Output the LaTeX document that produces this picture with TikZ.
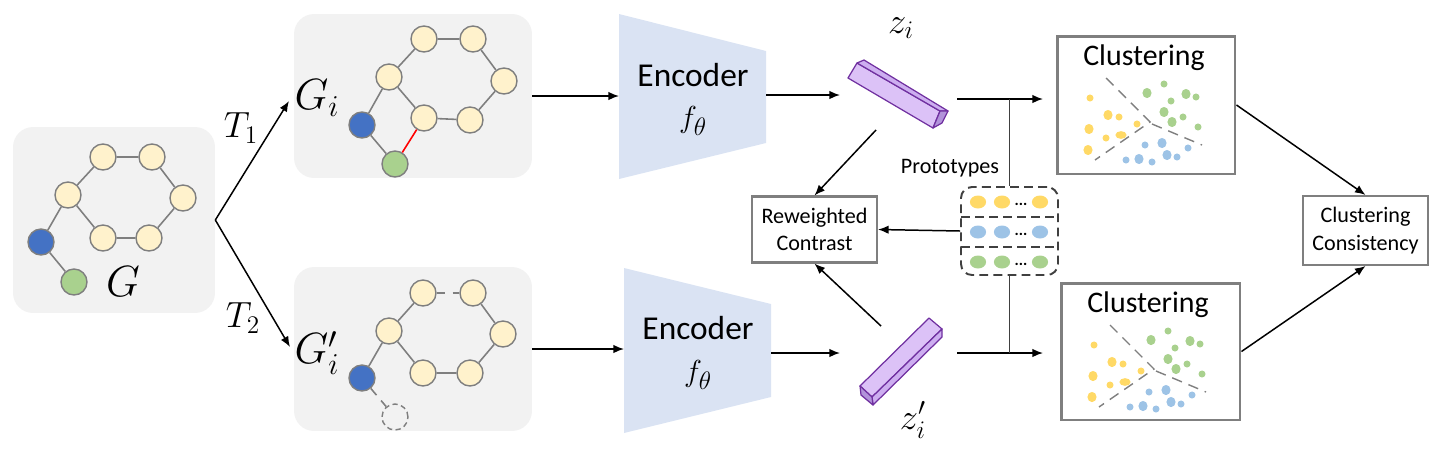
\documentclass[tikz,border=0pt]{standalone}
\usepackage{fontspec}
\setmainfont{Carlito}
\usetikzlibrary{arrows.meta}
\definecolor{boxgray}{HTML}{F2F2F2}
\definecolor{nodeyel}{HTML}{FFF2CC}
\definecolor{nodeblue}{HTML}{4472C4}
\definecolor{nodegreen}{HTML}{A9D18E}
\definecolor{edgegray}{HTML}{7F7F7F}
\definecolor{encblue}{HTML}{DAE3F3}
\definecolor{vecline}{HTML}{7030A0}
\definecolor{vecface}{HTML}{DCC2F7}
\definecolor{vecside}{HTML}{CDAEF0}
\definecolor{vecend}{HTML}{B293DA}
\definecolor{protogray}{HTML}{404040}
\definecolor{cyel}{HTML}{FFD966}
\definecolor{cblu}{HTML}{9DC3E6}
\definecolor{cgrn}{HTML}{A9D18E}

\begin{document}
\begin{tikzpicture}[x=0.02cm,y=-0.02cm,
    gbox/.style={fill=boxgray,rounded corners=0.4cm,inner sep=0pt},
    vtx/.style={circle,draw=edgegray,line width=0.8pt,minimum size=0.52cm,inner sep=0pt},
    yv/.style={vtx,fill=nodeyel},
    bv/.style={vtx,fill=nodeblue},
    gv/.style={vtx,fill=nodegreen},
    edge/.style={edgegray,line width=0.9pt},
    cut/.style={edge,dash pattern=on 5pt off 4pt},
    arr/.style={-{Latex[length=6pt,width=4.8pt]},line width=0.85pt},
    glab/.style={font=\fontsize{25}{28}\selectfont},
    tlab/.style={font=\fontsize{20}{24}\selectfont},
    zlab/.style={font=\fontsize{22}{26}\selectfont},
    enc/.style={font=\fontsize{19}{22}\selectfont},
    ctitle/.style={font=\fontsize{17}{20}\selectfont},
    small/.style={font=\fontsize{12.6}{15.5}\selectfont,align=center},
    frame/.style={draw=edgegray,line width=1.2pt,inner sep=0pt},
    cframe/.style={draw=edgegray,line width=1.7pt,inner sep=0pt},
    vec/.style={draw=vecline,line width=0.7pt,line join=round},
    sep/.style={draw=protogray,line width=1.1pt,dash pattern=on 5pt off 3pt},
    split/.style={draw=edgegray,line width=0.8pt,dash pattern=on 6pt off 4pt}
  ]
  \useasboundingbox (0,0) rectangle (1440,464);

  % input graph G
  \node[gbox,minimum width=4.04cm,minimum height=3.72cm] (boxG) at (114,220) {};
  \foreach \n/\x/\y in {1/103/157,2/152/157,3/183/198,4/149/238,5/103/238,6/68/195}
    \node[yv] (g\n) at (\x,\y) {};
  \node[bv] (gb) at (41,242) {};
  \node[gv] (gg) at (74,282) {};
  \draw[edge] (g1) -- (g2) -- (g3) -- (g4) -- (g5) -- (g6) -- (g1) (g6) -- (gb) -- (gg);
  \node[glab] (lg) at (123,282) {$G$};

  % first view
  \node[gbox,minimum width=4.76cm,minimum height=3.28cm] (boxGi) at (413,96) {};
  \foreach \n/\x/\y in {1/424/39,2/473/39,3/504/81,4/470/120,5/424/118,6/389/77}
    \node[yv] (a\n) at (\x,\y) {};
  \node[bv] (ab) at (362,125) {};
  \node[gv] (ag) at (395,164) {};
  \draw[edge] (a1) -- (a2) -- (a3) -- (a4) -- (a5) -- (a6) -- (a1) (a6) -- (ab) -- (ag);
  \draw[red,line width=0.9pt] (ag) -- (a5);
  \node[glab] (lgi) at (317,98) {$G_i$};

  % second view
  \node[gbox,minimum width=4.76cm,minimum height=3.28cm] (boxGj) at (413,349) {};
  \foreach \n/\x/\y in {1/423/293,2/473/293,3/503/334,4/470/373,5/423/373,6/389/331}
    \node[yv] (b\n) at (\x,\y) {};
  \node[bv] (bb) at (362,378) {};
  \node[vtx,dash pattern=on 3pt off 2pt] (bg) at (395,417) {};
  \draw[edge] (b2) -- (b3) -- (b4) -- (b5) -- (b6) -- (b1) (b6) -- (bb);
  \draw[cut] (b1) -- (b2);
  \draw[cut] (bb) -- (bg);
  \node[glab] (lgj) at (317,353) {$G_i'$};

  % augmentations
  \coordinate (t1end) at (289,101);
  \coordinate (t2end) at (290,347);
  \draw[arr] (boxG.east) -- (t1end);
  \draw[arr] (boxG.east) -- (t2end);
  \node[tlab] (t1) at (241,128) {$T_1$};
  \node[tlab] (t2) at (243,318) {$T_2$};

  % encoders
  \fill[encblue] (619,14) -- (766,51) -- (766,143) -- (619,179) -- cycle;
  \fill[encblue] (624,268) -- (771,304) -- (771,397) -- (624,433) -- cycle;
  \node[enc] (enc1) at (693,75) {Encoder};
  \node[enc] (f1) at (693,121) {$f_\theta$};
  \node[enc] (enc2) at (698,328) {Encoder};
  \node[enc] (f2) at (698,375) {$f_\theta$};
  \coordinate (e1w) at (619,96);
  \coordinate (e2w) at (624,349);
  \coordinate (e1e) at (766,95);
  \coordinate (e2e) at (771,353);
  \coordinate (zt1) at (840,95);
  \coordinate (zt2) at (840,353);
  \draw[arr] (boxGi.east) -- (e1w);
  \draw[arr] (boxGj.east) -- (e2w);
  \draw[arr] (e1e) -- (zt1);
  \draw[arr] (e2e) -- (zt2);

  % embeddings
  \filldraw[vec,fill=vecface] (848,78) -- (857,63) -- (940,111) -- (933,128) -- cycle;
  \filldraw[vec,fill=vecside] (857,63) -- (864,60) -- (948,111) -- (940,111) -- cycle;
  \filldraw[vec,fill=vecend] (933,128) -- (940,111) -- (948,111) -- (942,123) -- cycle;
  \filldraw[vec,fill=vecface] (860,386) -- (929,318) -- (942,329) -- (872,397) -- cycle;
  \filldraw[vec,fill=vecside] (872,397) -- (942,329) -- (942,337) -- (873,405) -- cycle;
  \filldraw[vec,fill=vecend] (860,386) -- (872,397) -- (873,405) -- (861,395) -- cycle;
  \node[zlab] (zi) at (901,28) {$z_i$};
  \node[zlab] (zj) at (913,420) {$z_i'$};

  % prototypes
  \node[draw=protogray,line width=1.1pt,dash pattern=on 5pt off 3pt,rounded corners=0.22cm,
    minimum width=1.94cm,minimum height=1.76cm] (proto) at (1009.5,231) {};
  \draw[sep] (961,217) -- (1058,217);
  \draw[sep] (961,247) -- (1058,247);
  \foreach \y/\c in {202/cyel,232/cblu,262/cgrn} {
    \foreach \x in {978,1002,1040}
      \fill[\c] (\x,\y) ellipse [x radius=4.6pt,y radius=3.7pt];
    \node[font=\bfseries\fontsize{9}{9}\selectfont,inner sep=0pt] (dots\y) at (1021,\y+2) {...};
  }
  \node[small] (plab) at (950,168) {Prototypes};

  % contrast
  \node[frame,small,minimum width=2.5cm,minimum height=1.32cm] (rc) at (814.5,229.5) {Reweighted\\Contrast};
  \coordinate (zc1) at (876,130);
  \coordinate (zc2) at (881,326);
  \draw[arr] (zc1) -- (rc.north);
  \draw[arr] (zc2) -- (rc.south);
  \draw[arr] (proto.west) -- (rc.east);

  % clustering
  \node[cframe,minimum width=3.56cm,minimum height=2.76cm] (clu1) at (1146,105) {};
  \node[cframe,minimum width=3.58cm,minimum height=2.74cm] (clu2) at (1150.5,351.5) {};
  \node[ctitle] (ct1) at (1144,58) {Clustering};
  \node[ctitle] (ct2) at (1148,305) {Clustering};
  \foreach \dx/\dy in {0/0,4/247} {
    \begin{scope}[shift={(\dx,\dy)}]
      \draw[split] (1106,78) -- (1150,122) -- (1095,160);
      \draw[split] (1152,124) -- (1202,145);
      \foreach \x/\y/\a/\b in {1090/98/2/2,1108/115/2.6/2.9,1119/117/2/2,1089/129/2.6/2.9,
          1106/138/2/2,1121/135/3.2/2.2,1137/124/2/2,1088/150/2.6/2.9}
        \fill[cyel] (\x,\y) ellipse [x radius=\a pt,y radius=\b pt];
      \foreach \x/\y/\a/\b in {1147/93/2.6/2.9,1164/84/2/2,1186/94/2.6/2.9,1196/97/2/2,
          1171/101/2/2,1164/112/2.6/2.9,1183/117/2/2,1172/122/2.6/2.9,1198/127/2/2}
        \fill[cgrn] (\x,\y) ellipse [x radius=\a pt,y radius=\b pt];
      \foreach \x/\y/\a/\b in {1145/145/2/2,1162/143/2.6/2.9,1188/148/2/2,1167/155/2.6/2.9,
          1177/157/2/2,1126/160/2/2,1139/159/2.6/2.9,1152/162/2/2}
        \fill[cblu] (\x,\y) ellipse [x radius=\a pt,y radius=\b pt];
    \end{scope}
  }
  \coordinate (zo1) at (957,99);
  \coordinate (zo2) at (957,353);
  \coordinate (cin1) at (1043,99);
  \coordinate (cin2) at (1043,353);
  \draw[arr] (zo1) -- (cin1);
  \draw[arr] (zo2) -- (cin2);
  \draw[protogray,line width=0.5pt] (proto.north) -- (proto.north |- zo1);
  \draw[protogray,line width=0.5pt] (proto.south) -- (proto.south |- zo2);

  % consistency
  \node[frame,small,minimum width=2.5cm,minimum height=1.38cm] (cc) at (1365.5,230.5) {Clustering\\Consistency};
  \draw[arr] (clu1.east) -- (cc.north);
  \draw[arr] (clu2.east) -- (cc.south);
\end{tikzpicture}
\end{document}
